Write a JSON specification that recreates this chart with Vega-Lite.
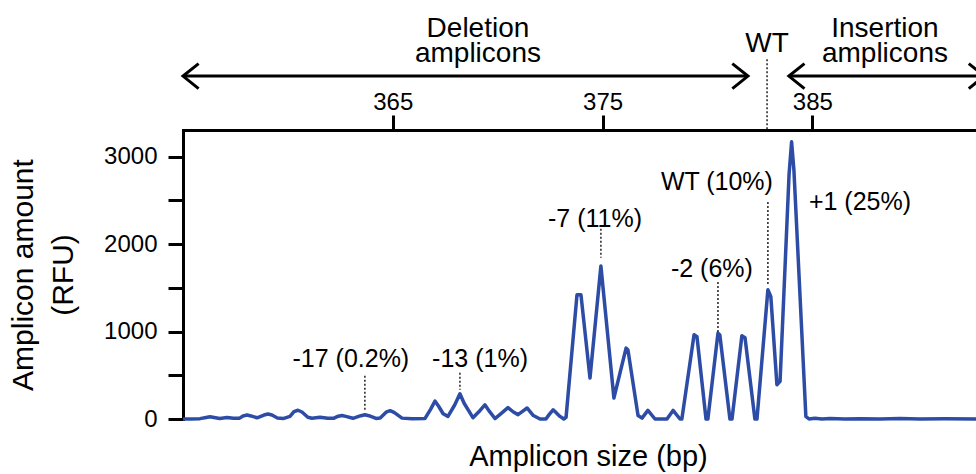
{
  "$schema": "https://vega.github.io/schema/vega-lite/v6.json",
  "width": 793,
  "height": 289,
  "autosize": {"type": "none"},
  "padding": {"left": 183, "top": 130, "right": 0, "bottom": 55},
  "background": "white",
  "config": {
    "view": {"stroke": null},
    "font": "Liberation Sans",
    "axis": {"grid": false, "labelFont": "Liberation Sans", "titleFont": "Liberation Sans", "labelColor": "black", "titleColor": "black", "titleFontWeight": "normal"}
  },
  "datasets": {
    "trace": [
      {"bp": 355.00, "rfu": 0}, {"bp": 355.33, "rfu": 0}, {"bp": 355.81, "rfu": 4}, {"bp": 356.10, "rfu": 18},
      {"bp": 356.29, "rfu": 26}, {"bp": 356.48, "rfu": 18}, {"bp": 356.75, "rfu": 6}, {"bp": 357.10, "rfu": 18},
      {"bp": 357.40, "rfu": 8}, {"bp": 357.70, "rfu": 10}, {"bp": 357.86, "rfu": 35}, {"bp": 358.05, "rfu": 45},
      {"bp": 358.24, "rfu": 35}, {"bp": 358.53, "rfu": 14}, {"bp": 358.86, "rfu": 45}, {"bp": 359.05, "rfu": 57},
      {"bp": 359.24, "rfu": 45}, {"bp": 359.50, "rfu": 12}, {"bp": 359.77, "rfu": 5}, {"bp": 360.10, "rfu": 30},
      {"bp": 360.29, "rfu": 85}, {"bp": 360.48, "rfu": 100}, {"bp": 360.67, "rfu": 80}, {"bp": 360.95, "rfu": 20},
      {"bp": 361.15, "rfu": 8}, {"bp": 361.53, "rfu": 20}, {"bp": 361.90, "rfu": 8}, {"bp": 362.20, "rfu": 10},
      {"bp": 362.40, "rfu": 32}, {"bp": 362.58, "rfu": 40}, {"bp": 362.76, "rfu": 30}, {"bp": 363.10, "rfu": 8},
      {"bp": 363.48, "rfu": 38}, {"bp": 363.67, "rfu": 48}, {"bp": 363.86, "rfu": 38}, {"bp": 364.20, "rfu": 6},
      {"bp": 364.40, "rfu": 12}, {"bp": 364.68, "rfu": 78}, {"bp": 364.87, "rfu": 95}, {"bp": 365.06, "rfu": 75},
      {"bp": 365.44, "rfu": 10}, {"bp": 365.92, "rfu": 3}, {"bp": 366.53, "rfu": 5}, {"bp": 366.80, "rfu": 110},
      {"bp": 367.01, "rfu": 205}, {"bp": 367.20, "rfu": 140}, {"bp": 367.40, "rfu": 60}, {"bp": 367.63, "rfu": 30},
      {"bp": 367.95, "rfu": 160}, {"bp": 368.20, "rfu": 288}, {"bp": 368.40, "rfu": 180}, {"bp": 368.82, "rfu": 15},
      {"bp": 369.15, "rfu": 95}, {"bp": 369.39, "rfu": 162}, {"bp": 369.60, "rfu": 90}, {"bp": 369.87, "rfu": 5},
      {"bp": 370.20, "rfu": 70}, {"bp": 370.49, "rfu": 130}, {"bp": 370.75, "rfu": 80}, {"bp": 370.97, "rfu": 50},
      {"bp": 371.20, "rfu": 90}, {"bp": 371.40, "rfu": 126}, {"bp": 371.70, "rfu": 40}, {"bp": 372.02, "rfu": 0},
      {"bp": 372.30, "rfu": 0}, {"bp": 372.45, "rfu": 50}, {"bp": 372.64, "rfu": 105}, {"bp": 372.80, "rfu": 70},
      {"bp": 372.97, "rfu": 30}, {"bp": 373.15, "rfu": 0}, {"bp": 373.26, "rfu": 20},
      {"bp": 373.78, "rfu": 1420}, {"bp": 373.97, "rfu": 1420}, {"bp": 374.40, "rfu": 468},
      {"bp": 374.92, "rfu": 1750}, {"bp": 375.54, "rfu": 240}, {"bp": 376.12, "rfu": 811}, {"bp": 376.21, "rfu": 790},
      {"bp": 376.69, "rfu": 40}, {"bp": 376.88, "rfu": 10}, {"bp": 377.16, "rfu": 98}, {"bp": 377.50, "rfu": 0},
      {"bp": 378.07, "rfu": 0}, {"bp": 378.36, "rfu": 98}, {"bp": 378.69, "rfu": 0}, {"bp": 378.78, "rfu": 0},
      {"bp": 379.36, "rfu": 963}, {"bp": 379.50, "rfu": 940}, {"bp": 379.93, "rfu": 0}, {"bp": 380.02, "rfu": 0},
      {"bp": 380.50, "rfu": 982}, {"bp": 380.59, "rfu": 960}, {"bp": 381.07, "rfu": 0}, {"bp": 381.17, "rfu": 0},
      {"bp": 381.64, "rfu": 952}, {"bp": 381.79, "rfu": 930}, {"bp": 382.26, "rfu": 0}, {"bp": 382.36, "rfu": 0},
      {"bp": 382.88, "rfu": 1478}, {"bp": 383.02, "rfu": 1400}, {"bp": 383.31, "rfu": 392}, {"bp": 383.46, "rfu": 430},
      {"bp": 383.89, "rfu": 2800}, {"bp": 384.01, "rfu": 3170}, {"bp": 384.12, "rfu": 2850}, {"bp": 384.69, "rfu": 30},
      {"bp": 384.84, "rfu": 0}, {"bp": 385.12, "rfu": 8}, {"bp": 385.46, "rfu": 0}, {"bp": 385.84, "rfu": 5},
      {"bp": 386.55, "rfu": 0}, {"bp": 387.27, "rfu": 4}, {"bp": 388.22, "rfu": 0}, {"bp": 389.18, "rfu": 5},
      {"bp": 390.13, "rfu": 0}, {"bp": 391.32, "rfu": 3}, {"bp": 392.80, "rfu": 0}
    ],
    "dotted": [
      {"x": 382.84, "y": 4113, "y2": 3305},
      {"x": 363.67, "y": 495, "y2": 106},
      {"x": 368.2, "y": 529, "y2": 335},
      {"x": 374.92, "y": 2175, "y2": 1843},
      {"x": 382.88, "y": 2483, "y2": 1529},
      {"x": 380.5, "y": 1567, "y2": 996}
    ],
    "arrows": [
      {"x": 355.0, "x2": 381.93, "y": 3922},
      {"x": 383.88, "x2": 393.2, "y": 3922}
    ],
    "heads": [
      {"x": 355.0, "y": 3922, "dir": "left"},
      {"x": 381.93, "y": 3922, "dir": "right"},
      {"x": 383.88, "y": 3922, "dir": "left"},
      {"x": 393.2, "y": 3922, "dir": "right"}
    ],
    "notes": [
      {"label": "-17 (0.2%)", "x": 363.0, "y": 600},
      {"label": "-13 (1%)", "x": 369.16, "y": 600},
      {"label": "-7 (11%)", "x": 374.64, "y": 2197},
      {"label": "WT (10%)", "x": 380.45, "y": 2620},
      {"label": "-2 (6%)", "x": 380.21, "y": 1620},
      {"label": "+1 (25%)", "x": 387.27, "y": 2392}
    ],
    "header": [
      {"label": "Deletion", "x": 369.06, "y": 4368},
      {"label": "amplicons", "x": 369.06, "y": 4082},
      {"label": "WT", "x": 382.84, "y": 4196},
      {"label": "Insertion", "x": 388.46, "y": 4368},
      {"label": "amplicons", "x": 388.46, "y": 4082}
    ]
  },
  "layer": [
    {
      "data": {"name": "trace"},
      "mark": {"type": "line", "color": "#2c4ca6", "strokeWidth": 3.5, "interpolate": "linear", "strokeJoin": "round", "clip": false},
      "encoding": {
        "x": {"field": "bp", "type": "quantitative",
          "scale": {"domain": [355, 392.8], "nice": false, "zero": false},
          "axis": {"orient": "top", "values": [365, 375, 385], "title": null, "format": "d",
            "domainColor": "black", "domainWidth": 3, "domainCap": "square",
            "tickColor": "black", "tickWidth": 3, "tickSize": 15,
            "labelFontSize": 24, "labelPadding": 1}},
        "y": {"field": "rfu", "type": "quantitative",
          "scale": {"domain": [0, 3305], "nice": false, "zero": false},
          "axis": {"values": [0, 500, 1000, 1500, 2000, 2500, 3000], "format": "d",
            "labelExpr": "datum.value % 1000 === 0 ? datum.label : ''",
            "title": ["Amplicon amount", "(RFU)"], "titleFontSize": 30, "titleLineHeight": 40, "titlePadding": 25,
            "domainColor": "black", "domainWidth": 3, "domainCap": "square",
            "tickColor": "black", "tickWidth": 3, "tickSize": 15,
            "labelFontSize": 24, "labelPadding": 11}}
      }
    },
    {
      "data": {"name": "dotted"},
      "mark": {"type": "rule", "color": "#222222", "strokeWidth": 1.5, "strokeDash": [2, 2]},
      "encoding": {
        "x": {"field": "x", "type": "quantitative",
          "scale": {"domain": [355, 392.8], "nice": false, "zero": false},
          "axis": {"orient": "bottom", "title": "Amplicon size (bp)", "labels": false, "ticks": false, "domain": false,
            "titleFontSize": 29, "titlePadding": 23, "titleX": 405}},
        "y": {"field": "y", "type": "quantitative", "scale": {"domain": [0, 3305], "nice": false, "zero": false}, "axis": null},
        "y2": {"field": "y2"}
      }
    },
    {
      "data": {"name": "arrows"},
      "mark": {"type": "rule", "color": "black", "strokeWidth": 3},
      "encoding": {
        "x": {"field": "x", "type": "quantitative", "scale": {"domain": [355, 392.8], "nice": false, "zero": false}, "axis": null},
        "x2": {"field": "x2"},
        "y": {"field": "y", "type": "quantitative", "scale": {"domain": [0, 3305], "nice": false, "zero": false}, "axis": null}
      }
    },
    {
      "data": {"name": "heads"},
      "mark": {"type": "point", "filled": false, "stroke": "black", "strokeWidth": 3, "size": 625, "opacity": 1},
      "encoding": {
        "x": {"field": "x", "type": "quantitative", "scale": {"domain": [355, 392.8], "nice": false, "zero": false}, "axis": null},
        "y": {"field": "y", "type": "quantitative", "scale": {"domain": [0, 3305], "nice": false, "zero": false}, "axis": null},
        "shape": {"field": "dir", "type": "nominal", "legend": null,
          "scale": {"domain": ["left", "right"], "range": ["M1.25,-1L0,0L1.25,1", "M-1.25,-1L0,0L-1.25,1"]}}
      }
    },
    {
      "data": {"name": "notes"},
      "mark": {"type": "text", "fontSize": 25, "font": "Liberation Sans", "align": "center", "baseline": "alphabetic", "color": "black"},
      "encoding": {
        "x": {"field": "x", "type": "quantitative", "scale": {"domain": [355, 392.8], "nice": false, "zero": false}, "axis": null},
        "y": {"field": "y", "type": "quantitative", "scale": {"domain": [0, 3305], "nice": false, "zero": false}, "axis": null},
        "text": {"field": "label"}
      }
    },
    {
      "data": {"name": "header"},
      "mark": {"type": "text", "fontSize": 28, "font": "Liberation Sans", "align": "center", "baseline": "alphabetic", "color": "black"},
      "encoding": {
        "x": {"field": "x", "type": "quantitative", "scale": {"domain": [355, 392.8], "nice": false, "zero": false}, "axis": null},
        "y": {"field": "y", "type": "quantitative", "scale": {"domain": [0, 3305], "nice": false, "zero": false}, "axis": null},
        "text": {"field": "label"}
      }
    }
  ],
  "resolve": {"axis": {"x": "independent", "y": "independent"}}
}
